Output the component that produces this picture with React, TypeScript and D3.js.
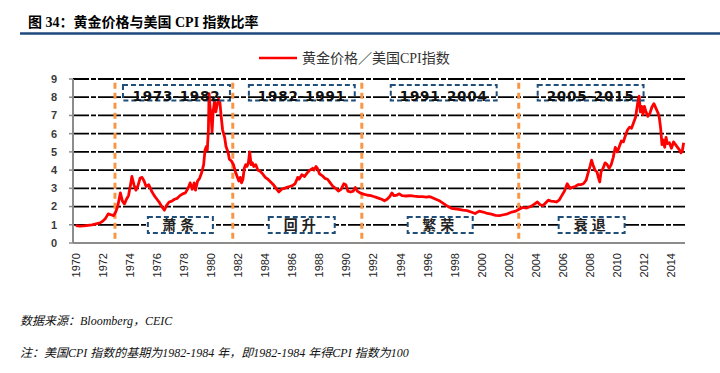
import * as d3 from 'd3';
import React from 'react';

// decimal year and gold price / US CPI ratio
const years = [
  1970.0, 1970.3, 1970.6, 1970.9, 1971.2, 1971.5, 1971.8, 1972.0, 1972.2, 1972.4, 1972.6, 1972.8, 1972.95,
  1973.1, 1973.3, 1973.45, 1973.6, 1973.75, 1973.9, 1974.05, 1974.15, 1974.3, 1974.45, 1974.6, 1974.75, 1974.9,
  1975.05, 1975.2, 1975.4, 1975.6, 1975.8, 1976.0, 1976.2, 1976.4, 1976.55, 1976.7, 1976.9, 1977.1, 1977.3,
  1977.5, 1977.7, 1977.9, 1978.1, 1978.3, 1978.45, 1978.6, 1978.75, 1978.85, 1979.0, 1979.15, 1979.3, 1979.45,
  1979.55, 1979.65, 1979.72, 1979.8, 1979.85, 1979.92, 1980.0, 1980.07, 1980.15, 1980.25, 1980.35, 1980.45,
  1980.55, 1980.65, 1980.75, 1980.85, 1981.0, 1981.1, 1981.25, 1981.35, 1981.5, 1981.65, 1981.8, 1981.95,
  1982.05, 1982.15, 1982.25, 1982.35, 1982.45, 1982.55, 1982.65, 1982.75, 1982.85, 1982.95, 1983.05, 1983.15,
  1983.3, 1983.45, 1983.6, 1983.8, 1984.0, 1984.2, 1984.4, 1984.6, 1984.8, 1985.0, 1985.2, 1985.4, 1985.6,
  1985.8, 1986.0, 1986.2, 1986.4, 1986.5, 1986.7, 1986.9, 1987.1, 1987.3, 1987.5, 1987.6, 1987.75, 1987.85,
  1988.0, 1988.2, 1988.4, 1988.6, 1988.8, 1989.0, 1989.2, 1989.4, 1989.6, 1989.8, 1989.95, 1990.1, 1990.3,
  1990.5, 1990.65, 1990.8, 1991.0, 1991.2, 1991.4, 1991.6, 1991.8, 1992.0, 1992.2, 1992.4, 1992.6, 1992.8,
  1993.0, 1993.2, 1993.35, 1993.5, 1993.7, 1993.9, 1994.1, 1994.4, 1994.7, 1995.0, 1995.3, 1995.6, 1995.9,
  1996.1, 1996.3, 1996.6, 1996.9, 1997.2, 1997.5, 1997.75, 1998.0, 1998.3, 1998.6, 1998.9, 1999.2, 1999.5,
  1999.8, 2000.1, 2000.4, 2000.7, 2001.0, 2001.3, 2001.6, 2001.9, 2002.2, 2002.5, 2002.75, 2003.0, 2003.3,
  2003.6, 2003.9, 2004.1, 2004.3, 2004.5, 2004.7, 2004.9, 2005.1, 2005.3, 2005.5, 2005.7, 2005.9, 2006.1,
  2006.3, 2006.5, 2006.7, 2006.9, 2007.1, 2007.3, 2007.5, 2007.7, 2007.9, 2008.0, 2008.1, 2008.2, 2008.35,
  2008.5, 2008.6, 2008.7, 2008.8, 2008.95, 2009.1, 2009.25, 2009.4, 2009.55, 2009.7, 2009.85, 2010.0, 2010.15,
  2010.3, 2010.45, 2010.6, 2010.75, 2010.9, 2011.05, 2011.2, 2011.35, 2011.45, 2011.55, 2011.62, 2011.7, 2011.8,
  2011.9, 2012.0, 2012.1, 2012.25, 2012.4, 2012.55, 2012.7, 2012.85, 2013.0, 2013.1, 2013.2, 2013.3, 2013.4,
  2013.5, 2013.6, 2013.7, 2013.85, 2014.0, 2014.15, 2014.3, 2014.45, 2014.6, 2014.7, 2014.8, 2014.9,
];
const ratio = [
  0.95, 0.93, 0.94, 0.97, 1.0, 1.05, 1.1, 1.2, 1.35, 1.6, 1.55, 1.5, 1.7,
  2.0, 2.75, 2.3, 2.15, 2.4, 2.6, 3.2, 3.65, 3.2, 2.9, 3.15, 3.55, 3.6,
  3.4, 3.1, 3.2, 2.85, 2.6, 2.4, 2.2, 1.95, 1.8, 2.05, 2.25, 2.3, 2.4,
  2.45, 2.6, 2.7, 2.75, 3.0, 3.3, 2.95, 3.3, 2.9, 3.4, 3.55, 3.85, 4.3,
  5.1, 5.3, 5.1, 6.2, 8.2, 7.5, 7.0, 6.1, 7.2, 7.8, 7.2, 7.6,
  7.9, 7.7, 6.9, 6.2, 5.8, 5.3, 5.0, 4.6, 4.5, 4.3, 3.9, 3.6,
  3.4, 3.6, 3.3, 3.5, 4.1, 4.3, 4.2, 4.4, 5.0, 4.3, 4.4, 4.2,
  4.3, 4.0, 3.95, 3.8, 3.6, 3.5, 3.35, 3.2, 3.0, 2.8, 2.95, 3.0, 3.05,
  3.1, 3.15, 3.25, 3.6, 3.5, 3.75, 3.65, 3.85, 4.0, 4.1, 4.0, 4.2, 4.1,
  3.8, 3.7, 3.55, 3.5, 3.3, 3.1, 3.0, 2.85, 2.95, 3.25, 3.2, 2.85, 2.8,
  2.85, 3.05, 2.85, 2.75, 2.7, 2.65, 2.62, 2.6, 2.55, 2.5, 2.45, 2.4, 2.32,
  2.4, 2.55, 2.75, 2.6, 2.62, 2.7, 2.6, 2.58, 2.6, 2.57, 2.55, 2.54, 2.52,
  2.55, 2.5, 2.4, 2.3, 2.15, 2.0, 1.9, 1.88, 1.85, 1.8, 1.78, 1.7, 1.62,
  1.75, 1.7, 1.62, 1.58, 1.52, 1.5, 1.55, 1.6, 1.7, 1.75, 1.85, 1.95, 1.92,
  2.0, 2.15, 2.25, 2.1, 2.05, 2.2, 2.35, 2.3, 2.28, 2.25, 2.35, 2.6, 2.85,
  3.25, 3.0, 3.05, 3.1, 3.2, 3.2, 3.25, 3.45, 4.0, 4.25, 4.55, 4.3, 4.0,
  3.9, 3.6, 3.35, 3.9, 4.1, 4.4, 4.3, 4.1, 4.3, 4.7, 5.25, 5.0, 5.3,
  5.6, 5.55, 5.9, 6.2, 6.35, 6.3, 6.6, 6.9, 7.4, 7.9, 8.05, 7.2, 7.5,
  7.05, 7.5, 7.25, 6.95, 7.1, 7.45, 7.65, 7.4, 7.15, 6.9, 6.3, 5.4, 5.65,
  5.25, 5.8, 5.45, 5.5, 5.2, 5.55, 5.4, 5.25, 5.1, 4.95, 5.05, 5.5,
];

const yTicks = [0, 1, 2, 3, 4, 5, 6, 7, 8, 9];
const xTickYears = d3.range(1970, 2015, 2);

// cycle boundaries (orange dashed lines)
const dividers = [1972.9, 1981.6, 1991.13, 2002.72];

// period labels on top, phase labels at bottom
const periodLabels = ['1973-1982', '1982-1991', '1991-2004', '2005-2015'];
const periodStart = [1973.49, 1982.79, 1993.27, 2004.12];
const periodEnd = [1981.39, 1990.61, 2001.09, 2011.94];
const phaseLabels = ['萧条', '回升', '繁荣', '衰退'];
const phaseStart = [1975.33, 1984.26, 1994.52, 2005.67];
const phaseEnd = [1980.13, 1989.13, 1999.32, 2010.54];

const W = 720;
const H = 373;
const plot = { left: 73, right: 685, top: 79, bottom: 243 };

const serif = '"Liberation Serif", "Noto Sans CJK SC", serif';
const sans = '"Liberation Sans", Arial, sans-serif';

export default function App() {
  const x = d3.scaleLinear().domain([1969.8, 2015.0]).range([plot.left, plot.right]);
  const y = d3.scaleLinear().domain([0, 9]).range([plot.bottom, plot.top]);

  const pts: [number, number][] = years.map((yr, i) => [yr, ratio[i]]);
  const line = d3.line<[number, number]>()
    .x(d => x(d[0]))
    .y(d => y(d[1]));

  return (
    <svg width={W} height={H} style={{ position: 'absolute', left: 0, top: 0, background: '#fff' }}>
      {/* title */}
      <text x={28} y={27} fontFamily={serif} fontSize={14} fontWeight="bold" fill="#000">
        图 34：黄金价格与美国 CPI 指数比率
      </text>
      <line x1={20} x2={720} y1={33.5} y2={33.5} stroke="#1f497d" strokeWidth={2.5} />

      {/* legend */}
      <line x1={259} x2={297} y1={58} y2={58} stroke="#ff0000" strokeWidth={2.5} />
      <text x={302} y={63} fontFamily={serif} fontSize={14} fill="#333">黄金价格／美国CPI指数</text>

      {/* gridlines */}
      {yTicks.filter(t => t > 0).map(t => (
        <line key={t} x1={plot.left} x2={plot.right} y1={y(t)} y2={y(t)}
          stroke="#000" strokeWidth={1.8} strokeDasharray="16,2,5,2" />
      ))}

      {/* y axis */}
      <line x1={plot.left} x2={plot.left} y1={y(9)} y2={plot.bottom} stroke="#8c8c8c" strokeWidth={2} />
      {yTicks.map(t => (
        <g key={t}>
          <line x1={plot.left - 4} x2={plot.left} y1={y(t)} y2={y(t)} stroke="#8c8c8c" strokeWidth={1.5} />
          <text x={57} y={y(t)} dy="0.35em" textAnchor="end" fontFamily={sans} fontSize={11}
            fontWeight="bold" fill="#3a3a3a">{t}</text>
        </g>
      ))}

      {/* x axis */}
      <line x1={plot.left} x2={plot.right} y1={plot.bottom} y2={plot.bottom} stroke="#8c8c8c" strokeWidth={2} />
      {xTickYears.map(yr => (
        <text key={yr} transform={`translate(${x(yr)},${plot.bottom + 10}) rotate(-90)`}
          textAnchor="end" dy="0.35em" fontFamily={sans} fontSize={11} fill="#222">{yr}</text>
      ))}

      {/* cycle dividers */}
      {dividers.map(d => (
        <line key={d} x1={x(d)} x2={x(d)} y1={y(8.8)} y2={plot.bottom}
          stroke="#f79646" strokeWidth={3} strokeDasharray="6,4" />
      ))}

      {/* series */}
      <path d={line(pts) || ''} fill="none" stroke="#ff0000" strokeWidth={2.8} strokeLinejoin="round" />

      {/* period boxes */}
      {periodLabels.map((lab, i) => (
        <g key={lab}>
          <rect x={x(periodStart[i])} y={y(8.67)} width={x(periodEnd[i]) - x(periodStart[i])}
            height={y(7.82) - y(8.67)} fill="none" stroke="#1f4e79" strokeWidth={2} strokeDasharray="5,3" />
          <text x={(x(periodStart[i]) + x(periodEnd[i])) / 2} y={y(7.8)} textAnchor="middle"
            fontFamily='"DejaVu Sans", sans-serif' fontWeight="bold" fontSize={13.5} letterSpacing={0.8}
            fill="#111">{lab}</text>
        </g>
      ))}
      {phaseLabels.map((lab, i) => (
        <g key={lab}>
          <rect x={x(phaseStart[i])} y={y(1.43)} width={x(phaseEnd[i]) - x(phaseStart[i])}
            height={y(0.55) - y(1.43)} fill="#fff" stroke="#1f4e79" strokeWidth={2} strokeDasharray="5,3" />
          <text x={(x(phaseStart[i]) + x(phaseEnd[i])) / 2} y={y(0.99)} dy="0.36em" textAnchor="middle"
            fontFamily={serif} fontSize={14} fontWeight="bold" letterSpacing={4} fill="#222">{lab}</text>
        </g>
      ))}

      {/* notes */}
      <text x={20} y={325} fontFamily={serif} fontSize={12} fontStyle="italic" fill="#111">
        数据来源：Bloomberg，CEIC
      </text>
      <text x={20} y={357} fontFamily={serif} fontSize={12} fontStyle="italic" fill="#111">
        注：美国CPI 指数的基期为1982-1984 年，即1982-1984 年得CPI 指数为100
      </text>
    </svg>
  );
}
